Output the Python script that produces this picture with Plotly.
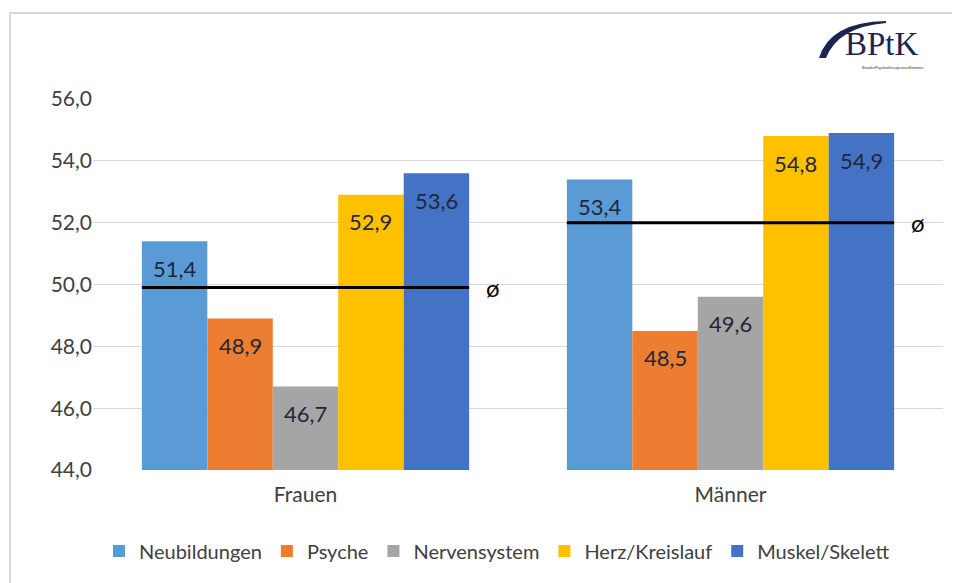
import plotly.graph_objects as go

# data
groups = ['Frauen', 'Männer']
series = ['Neubildungen', 'Psyche', 'Nervensystem', 'Herz/Kreislauf', 'Muskel/Skelett']
colors = ['#5B9BD5', '#ED7D31', '#A5A5A5', '#FFC000', '#4472C4']
values = {
    'Neubildungen': [51.4, 53.4],
    'Psyche': [48.9, 48.5],
    'Nervensystem': [46.7, 49.6],
    'Herz/Kreislauf': [52.9, 54.8],
    'Muskel/Skelett': [53.6, 54.9],
}
averages = [49.9, 52.0]
y_ticks = [44, 46, 48, 50, 52, 54, 56]

W, H = 960, 583
OFF = 8  # page body margin
L, R, T, B = 93 - OFF, 25, 99 - OFF, 121
bargap = 0.23
font = 'Lato, "Open Sans", sans-serif'

fig = go.Figure()
for name, col in zip(series, colors):
    fig.add_trace(go.Bar(x=groups, y=values[name], name=name, marker_color=col,
                         marker_line_width=0))

# value labels (inside, near the top of each bar)
n = len(series)
slot = (1 - bargap) / n
annotations = []
for i, name in enumerate(series):
    for g, v in enumerate(values[name]):
        annotations.append(dict(
            x=g + (i - (n - 1) / 2) * slot, y=v, xref='x2', yref='y',
            text=f'{v:.1f}'.replace('.', ','), showarrow=False,
            yshift=-27, font=dict(size=22, color='#1f2838', family=font)))

# average lines
half = (1 - bargap) / 2
for g, a in enumerate(averages):
    fig.add_trace(go.Scatter(x=[g - half, g + half], y=[a, a], xaxis='x2', mode='lines',
                             line=dict(color='black', width=3), showlegend=False,
                             hoverinfo='skip'))
    annotations.append(dict(x=g + half, y=a, xref='x2', yref='y', text='ø',
                            showarrow=False, xshift=24,
                            font=dict(size=24, color='black', family=font)))


def px(x):
    return (x - OFF - L) / (W - L - R)


def py(y):
    return (H - B - (y - OFF)) / (H - T - B)


# logo
annotations.append(dict(x=px(882), y=py(44), xref='paper', yref='paper', text='BPtK',
                        xanchor='center', yanchor='middle', showarrow=False,
                        font=dict(size=33, color='#1b2550',
                                  family='"Liberation Serif", serif')))
annotations.append(dict(x=px(893), y=py(67), xref='paper', yref='paper',
                        text='BundesPsychotherapeutenKammer', showarrow=False,
                        xanchor='center', yanchor='middle',
                        font=dict(size=4, color='#333', family=font)))

shapes = [
    dict(type='rect', xref='paper', yref='paper', x0=px(10), y0=py(13), x1=px(985),
         y1=py(610), line=dict(color='#d9d9d9', width=2), layer='below'),
    dict(type='path', xref='paper', yref='paper',
         path=(f'M {px(819)},{py(58)} Q {px(830)},{py(22)} {px(886)},{py(21)} '
               f'L {px(886)},{py(23)} Q {px(838)},{py(27)} {px(826)},{py(58)} Z'),
         fillcolor='#1b2550', line=dict(width=0)),
]

fig.update_layout(
    width=W, height=H,
    margin=dict(l=L, r=R, t=T, b=B),
    paper_bgcolor='white', plot_bgcolor='white',
    barmode='group', bargap=bargap, bargroupgap=0,
    separators=',.',
    font=dict(family=font, color='#595959'),
    xaxis=dict(tickfont=dict(size=21, color='#404040'), showgrid=False, ticks='',
               showline=False, ticklabelstandoff=10),
    xaxis2=dict(overlaying='x', range=[-0.5, 1.5], visible=False),
    yaxis=dict(range=[44, 56], tickvals=y_ticks, tickformat='.1f', showgrid=True,
               gridcolor='#d9d9d9', gridwidth=1, zeroline=False,
               tickfont=dict(size=21, color='#404040'), ticks='', ticklen=0),
    legend=dict(orientation='h', x=px(497), xanchor='center', y=py(551),
                yanchor='middle', font=dict(size=20, color='#404040'), itemwidth=30,
                traceorder='normal'),
    annotations=annotations,
    shapes=shapes,
)
fig.update_yaxes(ticksuffix='  ')

fig.write_html('out.html')
